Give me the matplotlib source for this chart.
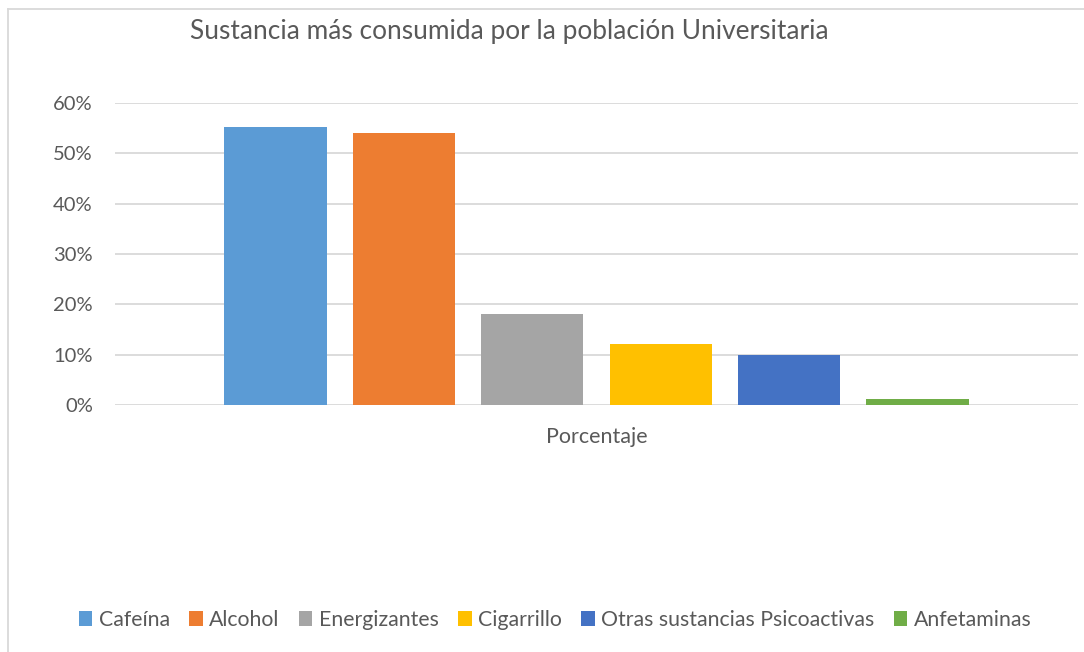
import matplotlib.pyplot as plt
from matplotlib.lines import Line2D
from matplotlib.ticker import PercentFormatter

plt.rcParams['font.family'] = ['Lato', 'DejaVu Sans']

sustancias = ["Cafeína", "Alcohol", "Energizantes", "Cigarrillo",
              "Otras sustancias Psicoactivas", "Anfetaminas"]
porcentajes = [0.552, 0.54, 0.181, 0.121, 0.099, 0.012]
colores = ["#5b9bd5", "#ed7d31", "#a5a5a5", "#ffc000", "#4472c4", "#70ad47"]
yticks = [0, 0.1, 0.2, 0.3, 0.4, 0.5, 0.6]

W, H = 1084, 652
fig = plt.figure(figsize=(W / 100, H / 100), dpi=100)
ax = fig.add_axes([115 / W, 1 - 405 / H, (1078 - 115) / W, (405 - 103) / H])

txt = "#595959"
grid = "#d9d9d9"

xs = list(range(len(sustancias)))
bars = ax.bar(xs, porcentajes, width=0.795, color=colores, zorder=3)

ax.set_xlim(-1.25, len(sustancias) - 1 + 1.25)
ax.set_ylim(0, 0.6)
ax.set_yticks(yticks)
ax.yaxis.set_major_formatter(PercentFormatter(1.0, decimals=0))
ax.grid(axis="y", color=grid, linewidth=1.3, zorder=0)
ax.set_xticks([])
for s in ax.spines.values():
    s.set_visible(False)
ax.tick_params(axis="y", length=0, pad=16, labelsize=14.5, labelcolor=txt)

fig.text(509 / W, 1 - 32 / H, "Sustancia más consumida por la población Universitaria",
         ha="center", va="center", fontsize=18.9, color=txt)
fig.text(597 / W, 1 - 437 / H, "Porcentaje", ha="center", va="center",
         fontsize=15.5, color=txt)

leg = fig.legend(bars, sustancias, loc="center", bbox_to_anchor=(555 / W, 1 - 620 / H),
                 ncol=6, frameon=False, fontsize=15.3, handlelength=0.65, handleheight=0.65,
                 handletextpad=0.3, columnspacing=0.9, labelcolor=txt)

# chart area border (left and top visible)
fig.add_artist(Line2D([8 / W, 8 / W], [0, 1 - 9 / H], transform=fig.transFigure,
                      color=grid, linewidth=1.3))
fig.add_artist(Line2D([8 / W, 1], [1 - 9 / H, 1 - 9 / H], transform=fig.transFigure,
                      color=grid, linewidth=1.3))

fig.savefig("out.png", dpi=100, facecolor="white")
